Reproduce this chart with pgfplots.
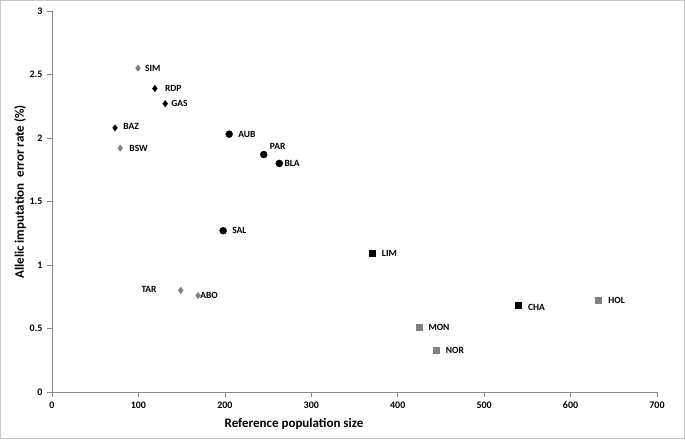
\documentclass[border=0pt]{standalone}
\usepackage{fontspec}
\setmainfont{Carlito}
\usepackage{pgfplots}
\pgfplotsset{compat=1.18}
\usetikzlibrary{calc}
\definecolor{axgray}{RGB}{134,134,134}
\definecolor{mgray}{RGB}{128,128,128}
\definecolor{framegray}{RGB}{200,200,200}
\begin{document}
\begin{tikzpicture}[lbl/.style={font=\bfseries\fontsize{9.5}{10}\selectfont, inner sep=0pt, anchor=west}]
\begin{axis}[
  scale only axis, width=605pt, height=381pt,
  xmin=0, xmax=700, ymin=0, ymax=3,
  axis x line*=bottom, axis y line*=left,
  axis line style={axgray, line width=0.6pt, -},
  xtick={0,100,...,700}, ytick={0,0.5,1,1.5,2,2.5,3},
  tick align=outside, major tick length=5pt,
  tick style={axgray, line width=0.6pt},
  /pgf/number format/assume math mode=true,
  ticklabel style={font=\bfseries\fontsize{10}{11}\selectfont},
  yticklabel style={xshift=-1pt},
  xticklabel style={yshift=-1pt},
  xlabel={Reference population size},
  ylabel={Allelic imputation~ error rate (\%)},
  label style={font=\bfseries\fontsize{13}{15}\selectfont},
  xlabel style={at={($(axis description cs:0.40,0)+(0,-32pt)$)}, anchor=center},
  ylabel style={at={($(axis description cs:0,0.525)+(-32pt,0)$)}, anchor=center},
  clip=false,
]
% gray diamonds
\addplot[only marks, mark=diamond*, mark size=3.2pt, color=mgray] coordinates {
  (99.5,2.55) (79,1.92) (149,0.80) (169,0.76)};
% black diamonds
\addplot[only marks, mark=diamond*, mark size=3.2pt, color=black] coordinates {
  (119,2.39) (131,2.27) (73,2.08)};
% black circles
\addplot[only marks, mark=*, mark size=3.5pt, color=black] coordinates {
  (205,2.03) (245,1.87) (263,1.80) (198,1.27)};
% black squares
\addplot[only marks, mark=square*, mark size=3pt, color=black] coordinates {
  (370,1.09) (539,0.685)};
% gray squares
\addplot[only marks, mark=square*, mark size=3pt, color=mgray] coordinates {
  (632,0.72) (425,0.51) (444,0.33)};

\node[lbl, xshift=7pt] at (axis cs:99.5,2.55) {SIM};
\node[lbl, xshift=10pt] at (axis cs:119,2.39) {RDP};
\node[lbl, xshift=6pt] at (axis cs:131,2.27) {GAS};
\node[lbl, xshift=8pt, yshift=1.5pt] at (axis cs:73,2.08) {BAZ};
\node[lbl, xshift=9pt] at (axis cs:79,1.92) {BSW};
\node[lbl, xshift=9pt] at (axis cs:205,2.03) {AUB};
\node[lbl, xshift=6pt, yshift=8pt] at (axis cs:245,1.87) {PAR};
\node[lbl, xshift=5pt] at (axis cs:263,1.80) {BLA};
\node[lbl, xshift=9pt] at (axis cs:198,1.27) {SAL};
\node[lbl, anchor=east, xshift=-24pt, yshift=1pt] at (axis cs:149,0.80) {TAR};
\node[lbl, xshift=2pt] at (axis cs:169,0.76) {ABO};
\node[lbl, xshift=10pt] at (axis cs:370,1.09) {LIM};
\node[lbl, xshift=10pt, yshift=-2pt] at (axis cs:539,0.685) {CHA};
\node[lbl, xshift=10pt] at (axis cs:632,0.72) {HOL};
\node[lbl, xshift=9pt] at (axis cs:425,0.51) {MON};
\node[lbl, xshift=10pt] at (axis cs:444,0.33) {NOR};
\end{axis}
\pgfresetboundingbox
\useasboundingbox (-52pt,-47pt) rectangle (633pt,392pt);
\draw[framegray, line width=0.8pt] (-51.5pt,-46.5pt) rectangle (632.5pt,391.5pt);
\end{tikzpicture}
\end{document}
